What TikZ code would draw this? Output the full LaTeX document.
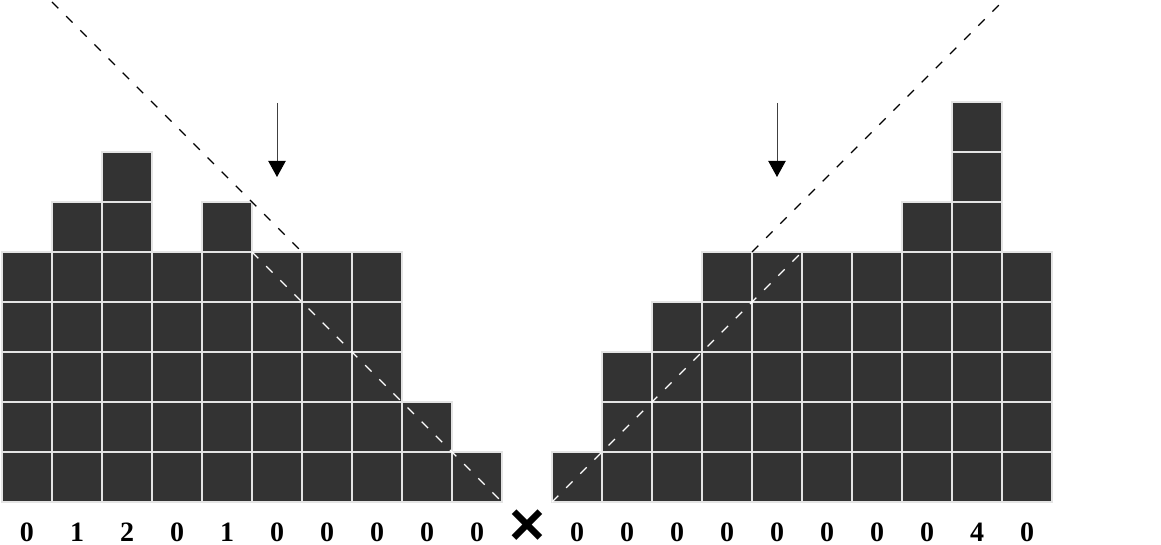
\documentclass[tikz,border=0pt]{standalone}
\usepackage{fontspec}
\setmainfont{Liberation Serif}
\newfontfamily\crossfont{Liberation Sans}
\usetikzlibrary{arrows.meta}
\definecolor{cellfill}{RGB}{51,51,51}
\definecolor{cellline}{RGB}{228,228,228}
\tikzset{
  cell/.style={fill=cellfill, draw=cellline, line width=0.9pt},
  dashblack/.style={draw=black, line width=1pt, dash pattern=on 6.75pt off 8.25pt},
  dashwhite/.style={draw=white, line width=1pt, dash pattern=on 6.75pt off 8.25pt},
  downarrow/.style={draw=black!75, line width=0.75pt, -{Triangle[width=13pt,length=12pt,color=black]}},
  countlabel/.style={anchor=base, inner sep=0pt, font=\bfseries\fontsize{21pt}{21pt}\selectfont},
}
\begin{document}
\begin{tikzpicture}[x=0.75pt,y=-0.75pt]
\useasboundingbox[fill=white] (0,0) rectangle (1161,545);
% left stacks
\foreach \h [count=\i from 0] in {5,6,7,5,6,5,5,5,2,1} {
  \foreach \j in {1,...,\h} {
    \draw[cell] ({2+50*\i},{502-50*\j}) rectangle ++(50,50);
  }
}
% right stacks
\foreach \h [count=\i from 0] in {1,3,4,5,5,5,5,6,8,5} {
  \foreach \j in {1,...,\h} {
    \draw[cell] ({552+50*\i},{502-50*\j}) rectangle ++(50,50);
  }
}
% labels
\foreach \v [count=\i from 0] in {0,1,2,0,1,0,0,0,0,0} {
  \node[countlabel] (LL\i) at ({27+50*\i},541) {\v};
}
\foreach \v [count=\i from 0] in {0,0,0,0,0,0,0,0,4,0} {
  \node[countlabel] (RL\i) at ({577+50*\i},541) {\v};
}
\node[anchor=base, inner sep=0pt, text height=8pt, text depth=0pt, font=\crossfont\bfseries\fontsize{46pt}{46pt}\selectfont] (times) at (527,545) {×};
% dashed diagonals
\coordinate (lt) at (52,2);
\coordinate (lm) at (302,252);
\coordinate (lw) at (252,252);
\coordinate (lb) at (502,502);
\coordinate (rb) at (552,502);
\coordinate (rw) at (802,252);
\coordinate (rm) at (752,252);
\coordinate (rt) at (1002,2);
\draw[dashblack] (lt) -- (lm);
\draw[dashwhite] (lw) -- (lb);
\draw[dashwhite] (rb) -- (rw);
\draw[dashblack] (rm) -- (rt);
% arrows
\coordinate (la1) at (277,103);
\coordinate (la2) at (277,177);
\coordinate (ra1) at (777,103);
\coordinate (ra2) at (777,177);
\draw[downarrow] (la1) -- (la2);
\draw[downarrow] (ra1) -- (ra2);
\end{tikzpicture}
\end{document}
